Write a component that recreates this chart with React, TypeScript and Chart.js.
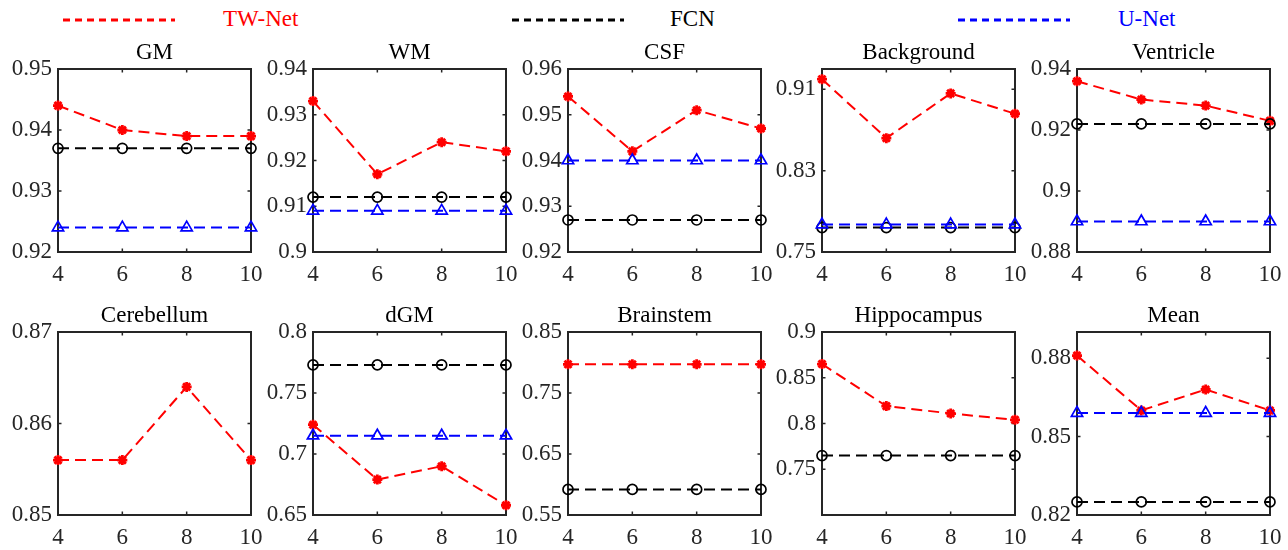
import React, { useEffect, useRef } from "react";
import { Chart, registerables } from "chart.js";

Chart.register(...registerables);

// ---------- data ----------
const xValues = [4, 6, 8, 10];
const xTicks = [4, 6, 8, 10];

const seriesNames = ["TW-Net", "FCN", "U-Net"];
const seriesColors = ["#ff0000", "#000000", "#0000ff"];

const gmTW = [0.944, 0.94, 0.939, 0.939];
const gmFCN = [0.937, 0.937, 0.937, 0.937];
const gmUNet = [0.924, 0.924, 0.924, 0.924];
const gmTicks = [0.92, 0.93, 0.94, 0.95];
const gmRange = [0.92, 0.95];

const wmTW = [0.933, 0.917, 0.924, 0.922];
const wmFCN = [0.912, 0.912, 0.912, 0.912];
const wmUNet = [0.909, 0.909, 0.909, 0.909];
const wmTicks = [0.9, 0.91, 0.92, 0.93, 0.94];
const wmRange = [0.9, 0.94];

const csfTW = [0.954, 0.942, 0.951, 0.947];
const csfFCN = [0.927, 0.927, 0.927, 0.927];
const csfUNet = [0.94, 0.94, 0.94, 0.94];
const csfTicks = [0.92, 0.93, 0.94, 0.95, 0.96];
const csfRange = [0.92, 0.96];

const bgTW = [0.92, 0.862, 0.906, 0.886];
const bgFCN = [0.774, 0.774, 0.774, 0.774];
const bgUNet = [0.777, 0.777, 0.777, 0.777];
const bgTicks = [0.75, 0.83, 0.91];
const bgRange = [0.75, 0.93];

const venTW = [0.936, 0.93, 0.928, 0.923];
const venFCN = [0.922, 0.922, 0.922, 0.922];
const venUNet = [0.89, 0.89, 0.89, 0.89];
const venTicks = [0.88, 0.9, 0.92, 0.94];
const venRange = [0.88, 0.94];

const cerTW = [0.856, 0.856, 0.864, 0.856];
const cerTicks = [0.85, 0.86, 0.87];
const cerRange = [0.85, 0.87];

const dgmTW = [0.724, 0.679, 0.69, 0.658];
const dgmFCN = [0.773, 0.773, 0.773, 0.773];
const dgmUNet = [0.715, 0.715, 0.715, 0.715];
const dgmTicks = [0.65, 0.7, 0.75, 0.8];
const dgmRange = [0.65, 0.8];

const bsTW = [0.797, 0.797, 0.797, 0.797];
const bsFCN = [0.592, 0.592, 0.592, 0.592];
const bsTicks = [0.55, 0.65, 0.75, 0.85];
const bsRange = [0.55, 0.85];

const hipTW = [0.865, 0.819, 0.811, 0.804];
const hipFCN = [0.765, 0.765, 0.765, 0.765];
const hipTicks = [0.75, 0.8, 0.85, 0.9];
const hipRange = [0.7, 0.9];

const meanTW = [0.881, 0.86, 0.868, 0.86];
const meanFCN = [0.825, 0.825, 0.825, 0.825];
const meanUNet = [0.859, 0.859, 0.859, 0.859];
const meanTicks = [0.82, 0.85, 0.88];
const meanRange = [0.82, 0.89];

type PanelSpec = {
  title: string;
  tw: number[] | null;
  fcn: number[] | null;
  unet: number[] | null;
  ticks: number[];
  range: number[];
};

const panels: PanelSpec[] = [
  { title: "GM", tw: gmTW, fcn: gmFCN, unet: gmUNet, ticks: gmTicks, range: gmRange },
  { title: "WM", tw: wmTW, fcn: wmFCN, unet: wmUNet, ticks: wmTicks, range: wmRange },
  { title: "CSF", tw: csfTW, fcn: csfFCN, unet: csfUNet, ticks: csfTicks, range: csfRange },
  { title: "Background", tw: bgTW, fcn: bgFCN, unet: bgUNet, ticks: bgTicks, range: bgRange },
  { title: "Ventricle", tw: venTW, fcn: venFCN, unet: venUNet, ticks: venTicks, range: venRange },
  { title: "Cerebellum", tw: cerTW, fcn: null, unet: null, ticks: cerTicks, range: cerRange },
  { title: "dGM", tw: dgmTW, fcn: dgmFCN, unet: dgmUNet, ticks: dgmTicks, range: dgmRange },
  { title: "Brainstem", tw: bsTW, fcn: bsFCN, unet: null, ticks: bsTicks, range: bsRange },
  { title: "Hippocampus", tw: hipTW, fcn: hipFCN, unet: null, ticks: hipTicks, range: hipRange },
  { title: "Mean", tw: meanTW, fcn: meanFCN, unet: meanUNet, ticks: meanTicks, range: meanRange },
];

// ---------- layout ----------
const FONT = "'Liberation Serif', 'Times New Roman', serif";
const plotLefts = [58, 313, 568, 822, 1077];
const plotTops = [69, 332];
const PLOT_W = 193;
const PLOT_H = 183;
const Y_AXIS_W = 56;
const TITLE_H = 30;
const X_AXIS_H = 38;
const RIGHT_PAD = 14;
const CANVAS_W = Y_AXIS_W + PLOT_W + RIGHT_PAD;
const CANVAS_H = TITLE_H + PLOT_H + X_AXIS_H;

const fmt = (v: number) => String(Number(v.toFixed(4)));

const boxPlugin = {
  id: "matlabBox",
  beforeDatasetsDraw(chart: any) {
    const { ctx, chartArea: a, scales } = chart;
    ctx.save();
    ctx.strokeStyle = "#262626";
    ctx.lineWidth = 2;
    ctx.strokeRect(a.left, a.top, a.right - a.left, a.bottom - a.top);
    ctx.lineWidth = 1.5;
    const tl = 3.5;
    ctx.beginPath();
    for (const t of scales.x.ticks) {
      const px = scales.x.getPixelForValue(t.value);
      ctx.moveTo(px, a.bottom);
      ctx.lineTo(px, a.bottom - tl);
      ctx.moveTo(px, a.top);
      ctx.lineTo(px, a.top + tl);
    }
    for (const t of scales.y.ticks) {
      const py = scales.y.getPixelForValue(t.value);
      ctx.moveTo(a.left, py);
      ctx.lineTo(a.left + tl, py);
      ctx.moveTo(a.right, py);
      ctx.lineTo(a.right - tl, py);
    }
    ctx.stroke();
    ctx.restore();
  },
};

function makeDataset(idx: number, values: number[]) {
  const color = seriesColors[idx];
  const style = idx === 0 ? "star" : idx === 1 ? "circle" : "triangle";
  return {
    label: seriesNames[idx],
    data: xValues.map((x, i) => ({ x, y: values[i] })),
    borderColor: color,
    backgroundColor: "rgba(0,0,0,0)",
    borderWidth: 2,
    borderDash: [11, 6],
    pointStyle: style,
    pointRadius: idx === 0 ? 5 : idx === 1 ? 5 : 6.5,
    pointBorderWidth: idx === 0 ? 2.8 : 1.7,
    pointBorderColor: color,
    pointBackgroundColor: idx === 0 ? color : "rgba(0,0,0,0)",
    clip: false as any,
    order: 2 - idx,
    tension: 0,
  };
}

function Panel({ spec, left, top }: { spec: PanelSpec; left: number; top: number }) {
  const ref = useRef<HTMLCanvasElement>(null);
  useEffect(() => {
    if (!ref.current) return;
    const datasets: any[] = [];
    if (spec.tw) datasets.push(makeDataset(0, spec.tw));
    if (spec.fcn) datasets.push(makeDataset(1, spec.fcn));
    if (spec.unet) datasets.push(makeDataset(2, spec.unet));
    const chart = new Chart(ref.current, {
      type: "line",
      data: { datasets },
      options: {
        animation: false,
        responsive: false,
        devicePixelRatio: 1,
        layout: { padding: { top: 0, left: 0, right: RIGHT_PAD, bottom: 0 } },
        plugins: {
          legend: { display: false },
          tooltip: { enabled: false },
          title: {
            display: true,
            text: spec.title,
            color: "#000000",
            fullSize: false,
            font: { family: FONT, size: 23, weight: "normal", lineHeight: 1.2 },
            padding: { top: 0, bottom: 2.4 },
          },
        },
        scales: {
          x: {
            type: "linear",
            min: 4,
            max: 10,
            grid: { display: false, drawTicks: false },
            border: { display: false },
            afterBuildTicks: (s: any) => {
              s.ticks = xTicks.map((v) => ({ value: v }));
            },
            afterFit: (s: any) => {
              s.height = X_AXIS_H;
              s.paddingLeft = 0;
              s.paddingRight = 0;
            },
            ticks: {
              color: "#262626",
              padding: 9.5,
              maxRotation: 0,
              autoSkip: false,
              font: { family: FONT, size: 23, lineHeight: 1.2 },
              callback: (v: any) => fmt(Number(v)),
            },
          },
          y: {
            type: "linear",
            min: spec.range[0],
            max: spec.range[1],
            beginAtZero: false,
            grid: { display: false, drawTicks: false },
            border: { display: false },
            afterBuildTicks: (s: any) => {
              s.ticks = spec.ticks.map((v) => ({ value: v }));
            },
            afterFit: (s: any) => {
              s.width = Y_AXIS_W;
              s.paddingTop = 0;
              s.paddingBottom = 0;
            },
            ticks: {
              color: "#262626",
              padding: 6,
              autoSkip: false,
              font: { family: FONT, size: 23, lineHeight: 1.2 },
              callback: (v: any) => fmt(Number(v)),
            },
          },
        },
      },
      plugins: [boxPlugin],
    } as any);
    return () => chart.destroy();
  }, [spec]);
  return (
    <canvas
      ref={ref}
      width={CANVAS_W}
      height={CANVAS_H}
      style={{ position: "absolute", left, top, width: CANVAS_W, height: CANVAS_H, display: "block" }}
    />
  );
}

const legendLineLefts = [63, 512, 958];
const legendTextLefts = [223, 670, 1118];

function Legend() {
  return (
    <>
      {seriesNames.map((name, i) => (
        <React.Fragment key={name}>
          <svg
            width={112}
            height={4}
            style={{ position: "absolute", left: legendLineLefts[i], top: 17.5 }}
          >
            <line
              x1={0}
              y1={2}
              x2={112}
              y2={2}
              stroke={seriesColors[i]}
              strokeWidth={3}
              strokeDasharray="7 5"
            />
          </svg>
          <div
            style={{
              position: "absolute",
              left: legendTextLefts[i],
              top: 7.3,
              fontFamily: FONT,
              fontSize: 23,
              lineHeight: "23px",
              color: seriesColors[i],
              whiteSpace: "nowrap",
            }}
          >
            {name}
          </div>
        </React.Fragment>
      ))}
    </>
  );
}

export default function App() {
  return (
    <div
      style={{
        position: "absolute",
        left: 0,
        top: 0,
        width: 1288,
        height: 550,
        background: "#ffffff",
        overflow: "hidden",
      }}
    >
      <Legend />
      {panels.map((p, i) => {
        const col = i % 5;
        const row = Math.floor(i / 5);
        return (
          <Panel
            key={p.title}
            spec={p}
            left={plotLefts[col] - Y_AXIS_W}
            top={plotTops[row] - TITLE_H}
          />
        );
      })}
    </div>
  );
}
